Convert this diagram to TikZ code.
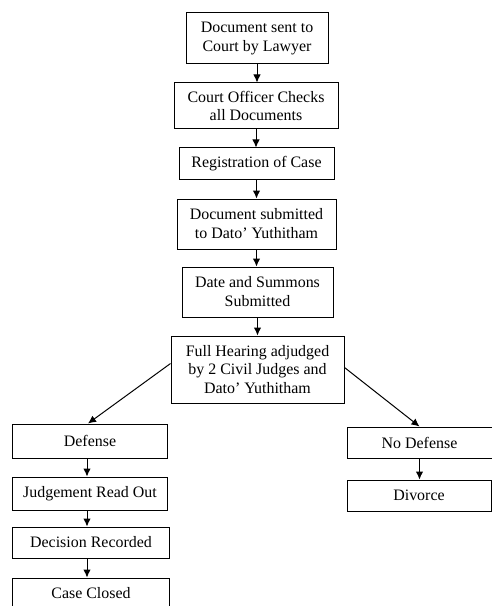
\documentclass[tikz,border=0pt]{standalone}
\usepackage{fontspec}
\setmainfont{Liberation Serif}
\usetikzlibrary{arrows.meta}
\begin{document}
\begin{tikzpicture}[x=1bp,y=-1bp,
  box/.style={draw, line width=1bp, align=center, inner sep=0pt,
    font=\fontsize{16}{19}\selectfont},
  arr/.style={-{Latex[length=8bp,width=7.5bp]}, line width=1bp}]
\useasboundingbox (0,0) rectangle (492,606);
\clip (0,0) rectangle (492,606);
\node[box, minimum width=142bp, minimum height=51bp] (b1) at (257,38.5) {Document sent to\\Court by Lawyer};
\node[box, minimum width=164bp, minimum height=46bp] (b2) at (256,106) {Court Officer Checks\\all Documents};
\node[box, minimum width=155bp, minimum height=31bp] (b3) at (256.5,163.5) {Registration of Case};
\node[box, minimum width=159bp, minimum height=50bp] (b4) at (256.5,224) {Document submitted\\to Dato' Yuthitham};
\node[box, minimum width=151bp, minimum height=50bp] (b5) at (257.5,292) {Date and Summons\\Submitted};
\node[box, minimum width=173bp, minimum height=67bp] (b6) at (257.5,369.5) {Full Hearing adjudged\\by 2 Civil Judges and\\Dato' Yuthitham};
\node[box, minimum width=154bp, minimum height=34bp] (def) at (90,441) {Defense};
\node[box, minimum width=154bp, minimum height=33bp] (jud) at (90,493.5) {Judgement Read Out};
\node[box, minimum width=156bp, minimum height=31bp] (dec) at (91,542.5) {Decision Recorded};
\node[box, minimum width=156bp, minimum height=34bp, text depth=0pt] (cc) at (91,595) {\raisebox{5bp}{Case Closed}};
\node[box, minimum width=145bp, minimum height=31bp] (nod) at (419.5,442.5) {No Defense};
\node[box, minimum width=144bp, minimum height=31bp] (div) at (419,495.5) {Divorce};
\draw[arr] (b1.south) -- (b1.south |- b2.north);
\draw[arr] (b2.south) -- (b2.south |- b3.north);
\draw[arr] (b3.south) -- (b3.south |- b4.north);
\draw[arr] (b4.south) -- (b4.south |- b5.north);
\draw[arr] (b5.south) -- (b5.south |- b6.north);
\draw[arr] ([yshift=6bp]b6.west) -- ([xshift=-2bp]def.north);
\draw[arr] ([yshift=2bp]b6.east) -- (nod.north);
\draw[arr] ([xshift=-3bp]def.south) -- ([xshift=-3bp]def.south |- jud.north);
\draw[arr] ([xshift=-3bp]jud.south) -- ([xshift=-3bp]jud.south |- dec.north);
\draw[arr] ([xshift=-4bp]dec.south) -- ([xshift=-4bp]dec.south |- cc.north);
\draw[arr] (nod.south) -- (nod.south |- div.north);
\end{tikzpicture}
\end{document}
